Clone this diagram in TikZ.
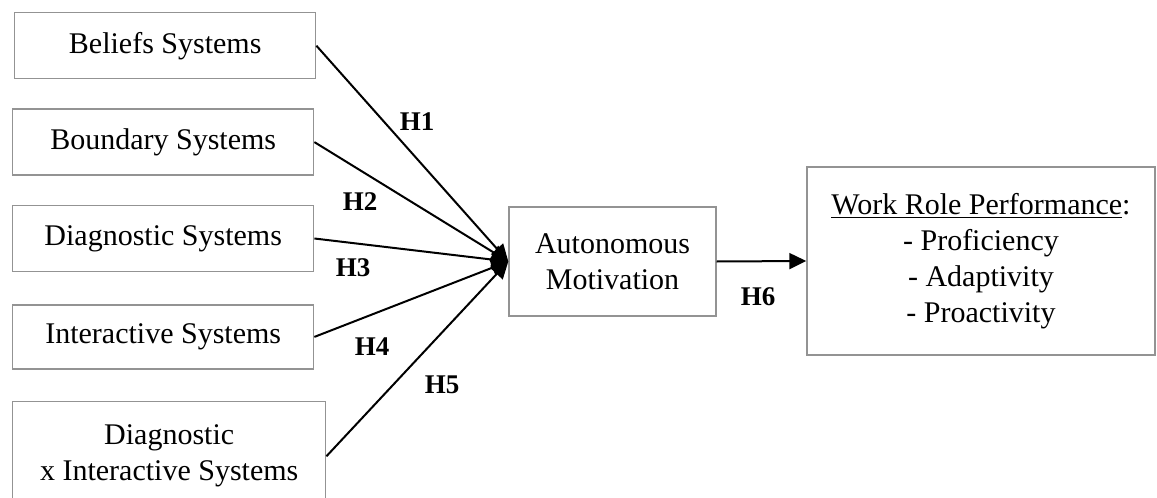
\documentclass[tikz,border=0pt]{standalone}
\usepackage{fontspec}
\setmainfont{Liberation Serif}
\usetikzlibrary{positioning,arrows.meta}

\begin{document}
\begin{tikzpicture}[
  x=0.5pt, y=-0.5pt,
  font=\fontsize{15}{18}\selectfont,
  >={Triangle[length=8.5pt,width=8pt]},
  node distance = 14.5pt and 10pt,
  %% Box styles
  sysbox/.style  = {draw=gray!85, line width=0.7pt,
                    minimum width=150.5pt, minimum height=33pt,
                    align=center, inner sep=2pt},
  motbox/.style  = {draw=gray!85, line width=0.7pt,
                    minimum width=103.5pt, minimum height=54.5pt,
                    align=center, inner sep=2pt},
  perfbox/.style = {draw=gray!85, line width=0.7pt,
                    minimum width=174pt, minimum height=94pt,
                    align=center, inner sep=2pt},
  hyp/.style     = {font=\bfseries\fontsize{13.5}{16}\selectfont, inner sep=1pt},
  arr/.style     = {->, line width=1pt},
]
\useasboundingbox (0,0) rectangle (1157,498);

%% ── Left column: control systems ───────────────────────────────
\node[sysbox, anchor=north west] (bel) at (14,12) {Beliefs Systems};
\node[sysbox, below=14.5pt of bel.south west, anchor=north west, xshift=-1pt] (bnd)
  {Boundary Systems};
\node[sysbox, below=14.5pt of bnd.south west, anchor=north west] (diag)
  {Diagnostic Systems};
\node[sysbox, below=16pt of diag.south west, anchor=north west, minimum height=32pt] (inter)
  {Interactive Systems};
\node[sysbox, below=15.5pt of inter.south west, anchor=north west,
      minimum width=156.5pt, minimum height=55pt] (dxi)
  {Diagnostic\\x Interactive Systems};

%% ── Mediator and outcome ───────────────────────────────────────
\node[motbox] (auton) at (612.5,261.5) {Autonomous\\Motivation};
\node[perfbox] (wrp) at (981,261)
  {\underline{Work Role Performance}:\\- Proficiency\\- Adaptivity\\- Proactivity};

%% ── Arrows: systems → motivation ───────────────────────────────
\draw[arr] (bel.east)   -- (auton.west);
\draw[arr] (bnd.east)   -- (auton.west);
\draw[arr] (diag.east)  -- (auton.west);
\draw[arr] (inter.east) -- (auton.west);
\draw[arr] (dxi.east)   -- (auton.west);

%% ── Arrow: motivation → performance ────────────────────────────
\draw[arr] (auton.east) -- (wrp.west);

%% ── Hypothesis labels ──────────────────────────────────────────
\node[hyp] (h1) at (417,122) {H1};
\node[hyp] (h2) at (360,202) {H2};
\node[hyp] (h3) at (353,268) {H3};
\node[hyp] (h4) at (372,347) {H4};
\node[hyp] (h5) at (442,385) {H5};
\node[hyp] (h6) at (758,297) {H6};

\end{tikzpicture}
\end{document}
